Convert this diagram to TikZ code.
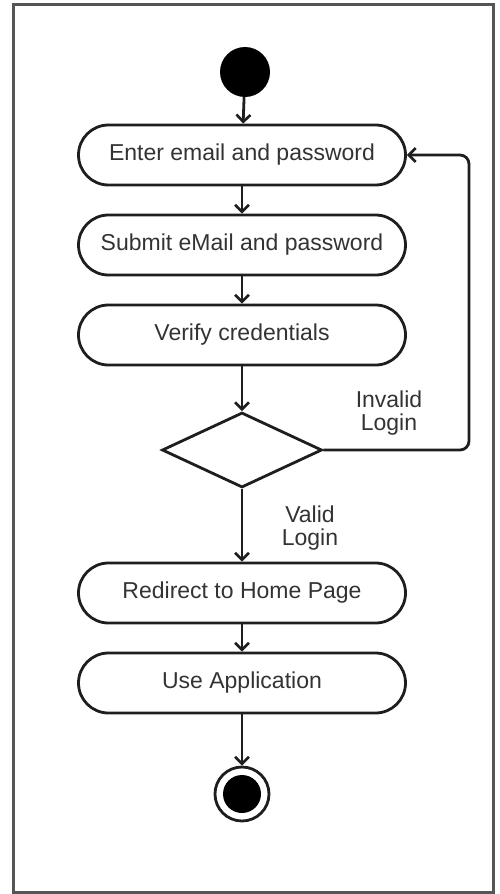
\documentclass[tikz,border=0pt]{standalone}
\usepackage{fontspec}
\setmainfont{Liberation Sans}
\usetikzlibrary{shapes.geometric, arrows.meta}
\definecolor{linegray}{HTML}{1E1E1E}
\definecolor{textgray}{HTML}{333333}
\definecolor{framegray}{HTML}{555555}
\begin{document}
\begin{tikzpicture}[x=1pt, y=-1pt,
        action/.style={draw=linegray, line width=2.8pt, rectangle, rounded corners=30pt,
            minimum width=327pt, minimum height=60pt, inner sep=0pt,
            font=\fontsize{23}{27}\selectfont, text=textgray},
        decision/.style={draw=linegray, line width=2.8pt, diamond, aspect=2.13,
            minimum width=160pt, minimum height=75pt, inner sep=0pt},
        initial/.style={circle, fill=black, minimum size=50pt, inner sep=0pt},
        final/.style={circle, draw=linegray, line width=2.8pt, minimum size=54pt, inner sep=0pt,
            path picture={\fill[black] (path picture bounding box.center) circle (19pt);}},
        guard/.style={font=\fontsize{23}{23}\selectfont, text=textgray, align=center},
        flow/.style={draw=linegray, line width=2.8pt, -{Straight Barb[length=7pt, width=14pt, line width=2.6pt]}}
    ]
    \useasboundingbox (0,0) rectangle (499,894);
    
    % Rahmen
    \draw[framegray, line width=3pt] (13,4) rectangle (493,892);
    
    % Knoten
    \node[initial] (start) at (245,72) {};
    \node[action] (enter) at (242,155) {Enter email and password};
    \node[action] (submit) at (242,245) {Submit eMail and password};
    \node[action] (verify) at (242,335) {Verify credentials};
    \node[decision] (check) at (242,450) {};
    \node[action] (redirect) at (242,593) {Redirect to Home Page};
    \node[action] (use) at (242,683) {Use Application};
    \node[final] (stop) at (242,794) {};
    
    % Kanten
    \draw[flow] (start) -- (enter);
    \draw[flow] (enter) -- (submit);
    \draw[flow] (submit) -- (verify);
    \draw[flow] (verify) -- (check);
    \draw[flow] (check) -- (redirect);
    \draw[flow] (redirect) -- (use);
    \draw[flow] (use) -- (stop);
    \draw[flow, rounded corners=9pt] (check.east) -- (469,450) -- (469,155) -- (enter.east);
    
    % Bedingungen
    \node[guard] (invalid) at (389,413) {Invalid\\Login};
    \node[guard] (valid) at (310,528) {Valid\\Login};
\end{tikzpicture}
\end{document}
